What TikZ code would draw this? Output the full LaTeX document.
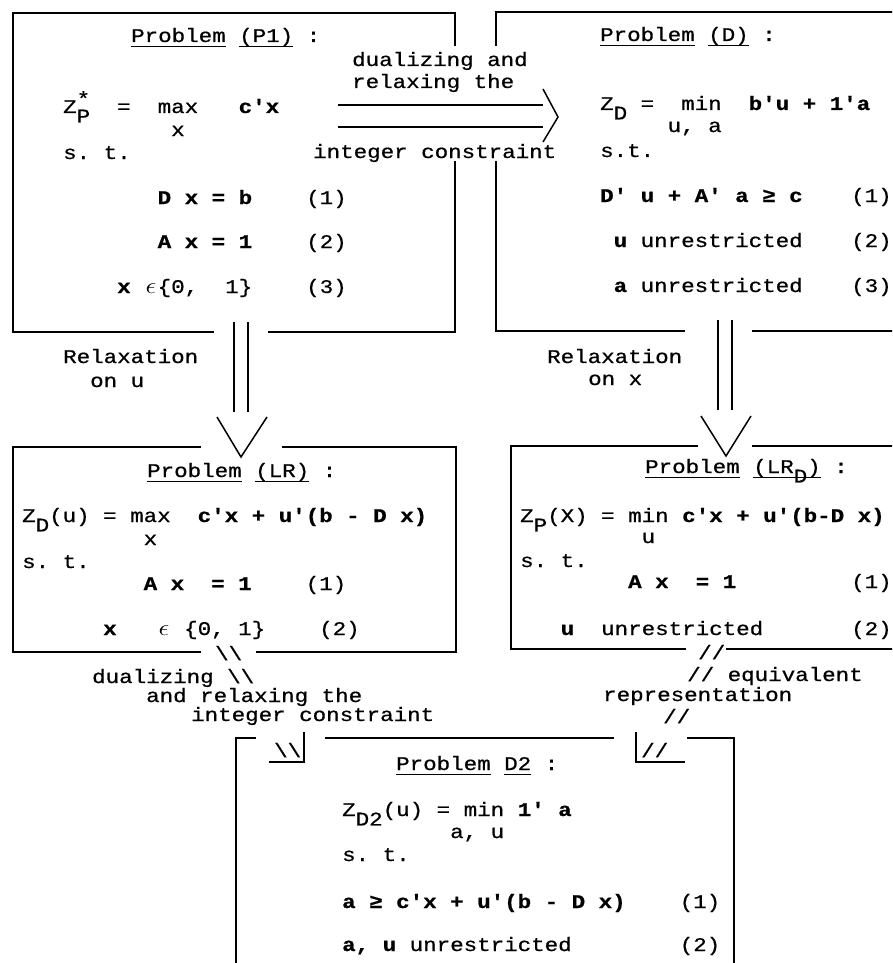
\documentclass[tikz,border=0pt]{standalone}
\usepackage{graphicx}
\usepackage{fontspec}
\setmonofont{Liberation Mono}[FakeBold=0.6]
\newcommand\mono{\ttfamily\fontsize{22.5}{27}\selectfont\frenchspacing}
% lowered subscript that keeps the column grid
\newcommand\lo[1]{\raisebox{-11pt}{#1}}
% set-membership sign, one column wide
\newcommand\eps{\makebox[0.6em]{\scalebox{1.3}{$\epsilon$}}}
% typewriter-style underline
\newsavebox\ulbox
\newcommand\uln[1]{\sbox\ulbox{#1}\rlap{\rule[-5.8pt]{\wd\ulbox}{1.6pt}}\usebox\ulbox}
\tikzset{
  txt/.style={anchor=base west,inner sep=0pt,font=\mono},
  frame/.style={line width=1.6pt,line cap=rect},
  dbl/.style={line width=1.3pt},
  chev/.style={line width=1.5pt,line join=miter},
}
% one line of typewriter text, slightly flattened like a typewriter face
\newcommand\T[4]{\node[txt] (#1) at (#2,#3) {\scalebox{1}[0.86]{#4}};}
\begin{document}
\begin{tikzpicture}[x=1pt,y=-1pt]
\useasboundingbox (0,0) rectangle (892,963);
\fill[white] (0,0) rectangle (892,963);
\clip (0,0) rectangle (892,963);

% ---------- Problem (P1)
\draw[frame] (455,45) -- (455,13) -- (13,13) -- (13,332) -- (213,332);
\draw[frame] (269,332) -- (455,332) -- (455,162);
\T{p1title}{131}{42}{\uln{Problem}~\uln{(P1)}~:}
\T{p1obj}{63}{113}{Z\lo{P}\llap{\raisebox{9pt}{*}}~~=~~max~~~\textbf{c'x}}
\T{p1var}{171}{136}{x}
\T{p1st}{63}{159}{s.~t.}
\T{p1c1}{157.5}{204}{\textbf{D~x~=~b}~~~~(1)}
\T{p1c2}{157.5}{248}{\textbf{A~x~=~1}~~~~(2)}
\T{p1c3}{117}{293}{\textbf{x}~\eps\{0,~~1\}~~~~(3)}

% ---------- Problem (D)
\draw[frame] (496,45) -- (496,12) -- (900,12);
\draw[frame] (496,162) -- (496,331) -- (684,331);
\draw[frame] (753,331) -- (900,331);
\T{dtitle}{600}{41}{\uln{Problem}~\uln{(D)}~:}
\T{dobj}{600}{110}{Z\lo{D}~=~~min~~\textbf{b'u~+~1'a}}
\T{dvar}{667.5}{132}{u,~a}
\T{dst}{600}{157}{s.t.}
\T{dc1}{600}{202}{\textbf{D'~u~+~A'~a~≥~c}}
\T{dc2}{613.5}{247}{\textbf{u}~unrestricted}
\T{dc3}{613.5}{292}{\textbf{a}~unrestricted}
\T{dn1}{851}{202}{(1)}
\T{dn2}{851}{247}{(2)}
\T{dn3}{851}{292}{(3)}

% ---------- dualizing arrow P1 -> D
\T{h1}{352}{66}{dualizing~and}
\T{h2}{352}{88}{relaxing~the}
\T{h3}{313}{158}{integer~constraint}
\coordinate (hA) at (338,105);
\coordinate (hB) at (338,127);
\coordinate (hA2) at (543,105);
\coordinate (hB2) at (543,127);
\coordinate (hTip) at (558,117);
\draw[dbl] (hA) -- (hA2);
\draw[dbl] (hB) -- (hB2);
\draw[chev] (543,89) -- (hTip) -- (543,142);

% ---------- relaxation arrows
\T{r1a}{63}{363}{Relaxation}
\T{r1b}{90}{387}{on~u}
\coordinate (vA) at (234,322);
\coordinate (vB) at (248,322);
\coordinate (vTip) at (241,457);
\draw[dbl] (vA) -- (234,412);
\draw[dbl] (vB) -- (248,412);
\draw[chev] (217,417) -- (vTip) -- (267,417);

\T{r2a}{547}{363}{Relaxation}
\T{r2b}{588}{385}{on~x}
\coordinate (wA) at (718,320);
\coordinate (wB) at (732,320);
\coordinate (wTip) at (726,456);
\draw[dbl] (wA) -- (718,410);
\draw[dbl] (wB) -- (732,410);
\draw[chev] (701,416) -- (wTip) -- (751,416);

% ---------- Problem (LR)
\draw[frame] (200,447) -- (13,447) -- (13,652) -- (200,652);
\draw[frame] (257,652) -- (456,652) -- (456,447) -- (283,447);
\T{lrtitle}{147}{477}{\uln{Problem}~\uln{(LR)}~:}
\T{lrobj}{22}{522}{Z\lo{D}(u)~=~max~~\textbf{c'x~+~u'(b~-~D~x)}}
\T{lrvar}{143.5}{545}{x}
\T{lrst}{22}{568}{s.~t.}
\T{lrc1}{143.5}{590}{\textbf{A~x~~=~1}~~~~(1)}
\T{lrc2}{103}{635}{\textbf{x}~~~\eps~\{0,~1\}~~~~(2)}

% ---------- Problem (LR_D)
\draw[frame] (697,446) -- (511,446) -- (511,649) -- (685,649);
\draw[frame] (727,649) -- (900,649);
\draw[frame] (753,446) -- (900,446);
\T{lrdtitle}{645}{473}{\uln{Problem}~\uln{(LR\lo{D})}~:}
\T{lrdobj}{520}{522}{Z\lo{P}(X)~=~min~\textbf{c'x~+~u'(b-D~x)}}
\T{lrdvar}{641.5}{543}{u}
\T{lrdst}{520}{567}{s.~t.}
\T{lrdc1}{628}{588}{\textbf{A~x~~=~1}}
\T{lrdc2}{560.5}{635}{\textbf{u}~~unrestricted}
\T{lrdn1}{851}{588}{(1)}
\T{lrdn2}{851}{635}{(2)}

% ---------- typed connectors LR -> D2 and LR_D -> D2
\T{l1}{215}{660}{\textbackslash\textbackslash}
\T{l2}{92}{683}{dualizing~\textbackslash\textbackslash}
\T{l3}{146}{702}{and~relaxing~the}
\T{l4}{191}{721}{integer~constraint}
\T{l5}{274}{757}{\textbackslash\textbackslash}

\T{q1}{698}{659}{//}
\T{q2}{687}{681}{//~equivalent}
\T{q3}{603}{701}{representation}
\T{q4}{663}{723}{//}
\T{q5}{641}{757}{//}

% ---------- Problem D2
\draw[frame] (236,970) -- (236,738) -- (255,738);
\draw[frame] (270,762) -- (304,762) -- (304,733);
\draw[frame] (326,738) -- (613,738);
\draw[frame] (636,733) -- (636,762) -- (684,762);
\draw[frame] (688,738) -- (734,738) -- (734,970);
\T{d2title}{396}{770}{\uln{Problem}~\uln{D2}~:}
\T{d2obj}{342}{816}{Z\lo{D2}(u)~=~min~\textbf{1'}~\textbf{a}}
\T{d2var}{450}{838}{a,~u}
\T{d2st}{342}{861}{s.~t.}
\T{d2c1}{342}{908}{\textbf{a~≥~c'x~+~u'(b~-~D~x)}~~~~(1)}
\T{d2c2}{342}{951}{\textbf{a,~u}~unrestricted~~~~~~~~(2)}
\end{tikzpicture}
\end{document}
